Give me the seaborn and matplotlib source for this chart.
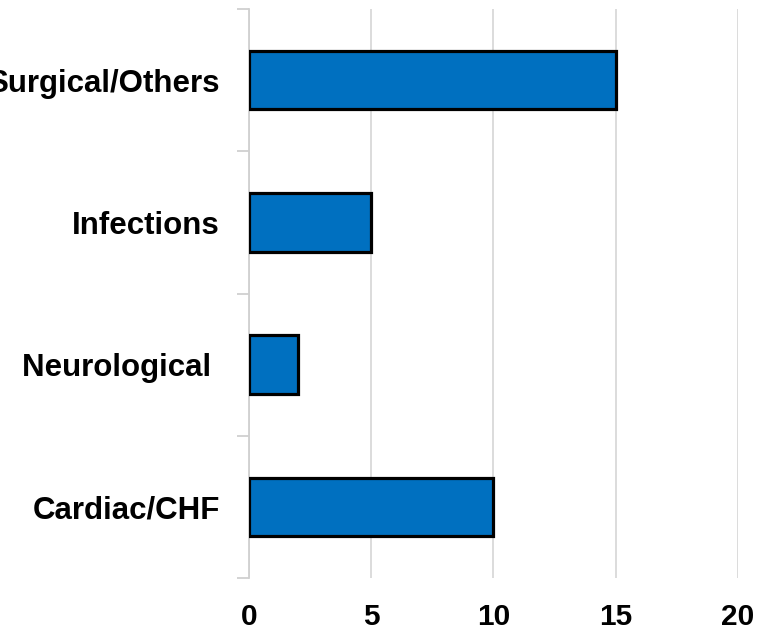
import matplotlib
matplotlib.use("Agg")
import matplotlib.pyplot as plt
import seaborn as sns
import pandas as pd
from matplotlib.ticker import FixedLocator

categories = ["Surgical/Others", "Infections", "Neurological ", "Cardiac/CHF"]
values = [15, 5, 2, 10]
x_ticks = [0, 5, 10, 15, 20]

sns.set_theme(style="white")
plt.rcParams['font.family'] = ['Liberation Sans', 'DejaVu Sans']

df = pd.DataFrame({"category": categories, "value": values})

fig = plt.figure(figsize=(7.69, 6.30), dpi=100)
ax = fig.add_axes([249/769, 1 - 578/630, (738 - 249)/769, (578 - 9)/630])

sns.barplot(data=df, y="category", x="value", orient="h", color="#0070C0",
            saturation=1, width=0.41, edgecolor="black", linewidth=2.3, ax=ax, zorder=3)

ax.set_xlim(0, 20)
ax.set_ylim(3.5, -0.5)
ax.set_xticks(x_ticks)
ax.set_xticklabels([str(t) for t in x_ticks], fontsize=21.5, fontweight="bold", color="black")
ax.set_yticks(range(len(categories)))
ax.set_yticklabels(categories, fontsize=22.5, fontweight="bold", color="black")
ax.set_xlabel("")
ax.set_ylabel("")

ax.grid(axis="x", color="#D9D9D9", linewidth=1.3, zorder=0)
ax.set_axisbelow(True)
for s in ["top", "right", "bottom"]:
    ax.spines[s].set_visible(False)
ax.spines["left"].set_color("#D0D0D0")
ax.spines["left"].set_linewidth(1.3)
ax.spines["left"].set_zorder(1)

ax.yaxis.set_minor_locator(FixedLocator([-0.5, 0.5, 1.5, 2.5, 3.5]))
ax.tick_params(axis="y", which="minor", length=9, width=1.3, color="#D0D0D0", direction="out", left=True)
ax.tick_params(axis="y", which="major", length=0, pad=21)
ax.tick_params(axis="x", which="major", length=0, pad=18)

fig.savefig("out.png", dpi=100)
